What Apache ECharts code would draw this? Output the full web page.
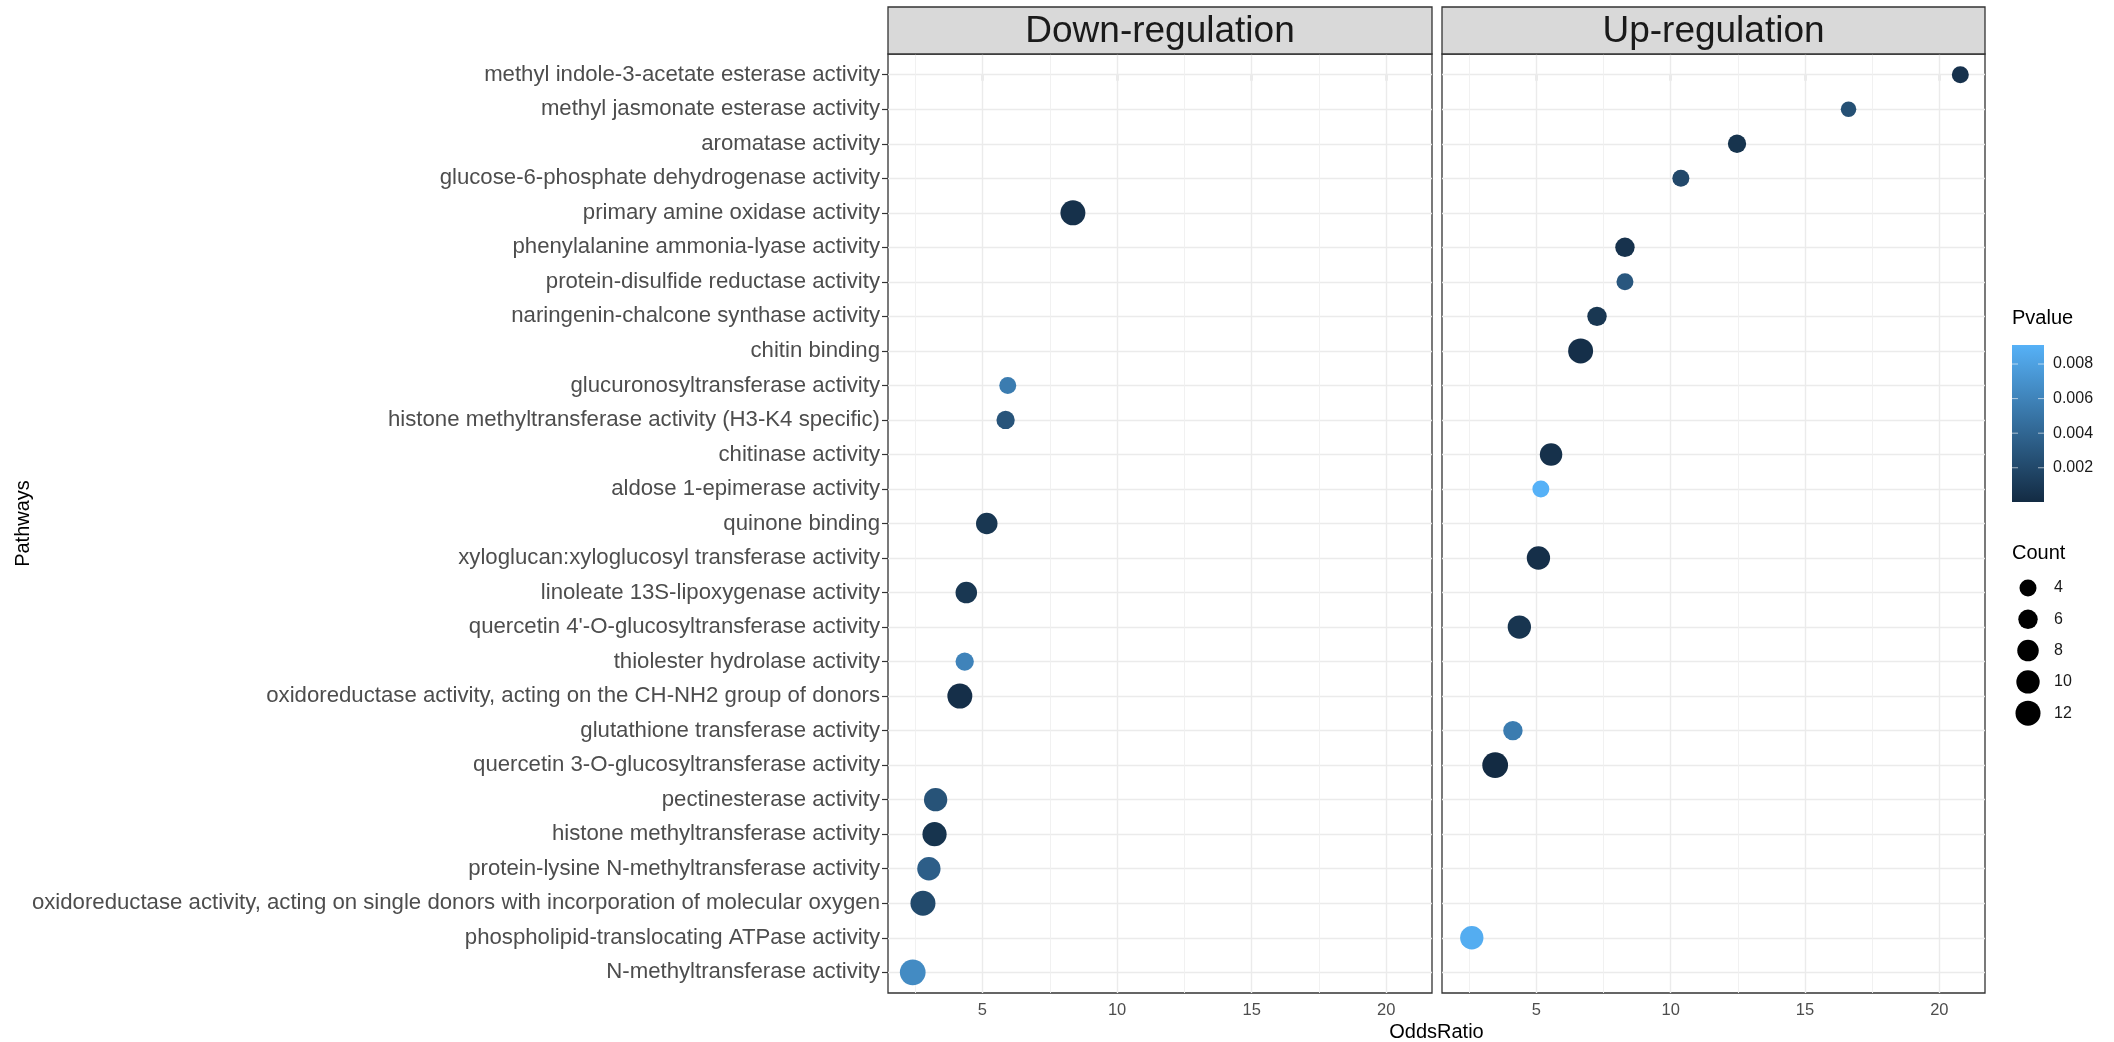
<!DOCTYPE html>
<html>
<head>
<meta charset="utf-8">
<title>GO enrichment: OddsRatio by pathway</title>
<script src="https://cdn.jsdelivr.net/npm/echarts@6/dist/echarts.min.js"></script>
<style>
  html, body { margin: 0; padding: 0; background: #ffffff; }
  #chart { width: 2114px; height: 1042px; }
</style>
</head>
<body>
<div id="chart"></div>
<script>
// Pathway names, top to bottom
const categories = [
  "methyl indole-3-acetate esterase activity",
  "methyl jasmonate esterase activity",
  "aromatase activity",
  "glucose-6-phosphate dehydrogenase activity",
  "primary amine oxidase activity",
  "phenylalanine ammonia-lyase activity",
  "protein-disulfide reductase activity",
  "naringenin-chalcone synthase activity",
  "chitin binding",
  "glucuronosyltransferase activity",
  "histone methyltransferase activity (H3-K4 specific)",
  "chitinase activity",
  "aldose 1-epimerase activity",
  "quinone binding",
  "xyloglucan:xyloglucosyl transferase activity",
  "linoleate 13S-lipoxygenase activity",
  "quercetin 4'-O-glucosyltransferase activity",
  "thiolester hydrolase activity",
  "oxidoreductase activity, acting on the CH-NH2 group of donors",
  "glutathione transferase activity",
  "quercetin 3-O-glucosyltransferase activity",
  "pectinesterase activity",
  "histone methyltransferase activity",
  "protein-lysine N-methyltransferase activity",
  "oxidoreductase activity, acting on single donors with incorporation of molecular oxygen",
  "phospholipid-translocating ATPase activity",
  "N-methyltransferase activity"
];

// Down-regulation panel
const downPathways = [
  "primary amine oxidase activity",
  "glucuronosyltransferase activity",
  "histone methyltransferase activity (H3-K4 specific)",
  "quinone binding",
  "linoleate 13S-lipoxygenase activity",
  "thiolester hydrolase activity",
  "oxidoreductase activity, acting on the CH-NH2 group of donors",
  "pectinesterase activity",
  "histone methyltransferase activity",
  "protein-lysine N-methyltransferase activity",
  "oxidoreductase activity, acting on single donors with incorporation of molecular oxygen",
  "N-methyltransferase activity"
];
const downOdds   = [8.36, 5.94, 5.86, 5.16, 4.40, 4.34, 4.16, 3.26, 3.22, 3.01, 2.79, 2.41];
const downPvalue = [0.0004, 0.0055, 0.0028, 0.0008, 0.0008, 0.0060, 0.0003, 0.0027, 0.0006, 0.0035, 0.0021, 0.0065];
const downCount  = [12, 4, 5, 8, 8, 5, 12, 10, 11, 10, 12, 13];

// Up-regulation panel
const upPathways = [
  "methyl indole-3-acetate esterase activity",
  "methyl jasmonate esterase activity",
  "aromatase activity",
  "glucose-6-phosphate dehydrogenase activity",
  "phenylalanine ammonia-lyase activity",
  "protein-disulfide reductase activity",
  "naringenin-chalcone synthase activity",
  "chitin binding",
  "chitinase activity",
  "aldose 1-epimerase activity",
  "xyloglucan:xyloglucosyl transferase activity",
  "quercetin 4'-O-glucosyltransferase activity",
  "glutathione transferase activity",
  "quercetin 3-O-glucosyltransferase activity",
  "phospholipid-translocating ATPase activity"
];
const upOdds   = [20.78, 16.62, 12.47, 10.38, 8.30, 8.30, 7.26, 6.65, 5.55, 5.17, 5.08, 4.37, 4.13, 3.47, 2.60];
const upPvalue = [0.0005, 0.0025, 0.0006, 0.0020, 0.0005, 0.0030, 0.0008, 0.0003, 0.0004, 0.0091, 0.0003, 0.0007, 0.0055, 0.00002, 0.0088];
const upCount  = [4, 3, 5, 4, 6, 4, 6, 12, 9, 4, 10, 10, 6, 13, 10];

// Axis ticks and legend breaks
const oddsTicks = [5, 10, 15, 20];
const oddsMinorTicks = [2.5, 7.5, 12.5, 17.5];
const pvalueTicks = [0.002, 0.004, 0.006, 0.008];
const countBreaks = [4, 6, 8, 10, 12];
const panelTitles = ["Down-regulation", "Up-regulation"];

const FONT = "'Liberation Sans', Arial, Helvetica, sans-serif";
const LOW_COLOR = '#132B43';
const HIGH_COLOR = '#56B1F7';

// point diameter from gene count (area-style scale)
function countToSize(c) { return 6.07 + 5.46 * Math.sqrt(c); }

function buildPoints(names, odds, pv, cnt) {
  return names.map((n, i) => [odds[i], categories.indexOf(n), pv[i], cnt[i], n]);
}

const allOdds = downOdds.concat(upOdds);
const oMin = Math.min.apply(null, allOdds), oMax = Math.max.apply(null, allOdds);
const oPad = (oMax - oMin) * 0.05;
const xMin = oMin - oPad, xMax = oMax + oPad;

const allP = downPvalue.concat(upPvalue);
const pMin = Math.min.apply(null, allP), pMax = Math.max.apply(null, allP);

// panel geometry
const PANEL_TOP = 54, PANEL_H = 939;
const panels = [
  { left: 888, width: 544 },
  { left: 1442, width: 543 }
];
const STRIP_TOP = 7;

function gridLineData() {
  const major = { color: '#ebebeb', width: 1.4, type: 'solid' };
  const minor = { color: '#efefef', width: 0.9, type: 'solid' };
  const d = [];
  categories.forEach((c, i) => d.push({ yAxis: i, lineStyle: major }));
  oddsMinorTicks.forEach(v => d.push({ xAxis: v, lineStyle: minor }));
  oddsTicks.forEach(v => d.push({ xAxis: v, lineStyle: major }));
  return d;
}

const grids = panels.map(p => ({
  left: p.left, top: PANEL_TOP, width: p.width, height: PANEL_H,
  show: true, backgroundColor: '#ffffff', borderColor: '#333333', borderWidth: 1.3,
  containLabel: false
}));

const xAxes = panels.map((p, i) => ({
  type: 'value', gridIndex: i, min: xMin, max: xMax,
  axisLine: { show: false },
  splitLine: { show: false },
  axisTick: { show: true, customValues: oddsTicks, length: 6, lineStyle: { color: '#333333', width: 1.2 } },
  axisLabel: { show: true, customValues: oddsTicks, fontSize: 16.5, color: '#4d4d4d', margin: 9, fontFamily: FONT }
}));

const yIdx = categories.map((c, i) => i);
const yAxes = panels.map((p, i) => ({
  type: 'value', gridIndex: i, inverse: true, min: -0.6, max: categories.length - 1 + 0.6,
  axisLine: { show: false },
  splitLine: { show: false },
  axisTick: { show: i === 0, customValues: yIdx, length: 6, lineStyle: { color: '#333333', width: 1.2 } },
  axisLabel: {
    show: i === 0, customValues: yIdx, fontSize: 22.2, color: '#4d4d4d', margin: 8, fontFamily: FONT,
    formatter: v => categories[Math.round(v)] || ''
  }
}));

const pointSeries = [
  buildPoints(downPathways, downOdds, downPvalue, downCount),
  buildPoints(upPathways, upOdds, upPvalue, upCount)
];

const series = [];
panels.forEach((p, i) => {
  series.push({
    type: 'line', xAxisIndex: i, yAxisIndex: i, data: [], z: 1, silent: true,
    markLine: { silent: true, symbol: ['none', 'none'], label: { show: false }, animation: false, data: gridLineData() }
  });
});
pointSeries.forEach((data, i) => {
  series.push({
    type: 'scatter', name: panelTitles[i], xAxisIndex: i, yAxisIndex: i, z: 5,
    data: data,
    symbol: 'circle',
    symbolSize: v => countToSize(v[3]),
    itemStyle: { opacity: 1 }
  });
});

// legend graphics: colourbar + size key + facet strips + axis titles
const graphics = [];
panels.forEach((p, i) => {
  graphics.push({
    type: 'rect', shape: { x: p.left, y: STRIP_TOP, width: p.width, height: PANEL_TOP - STRIP_TOP },
    style: { fill: '#d9d9d9', stroke: '#333333', lineWidth: 1.3 }, z: 10
  });
  graphics.push({
    type: 'text', x: p.left + p.width / 2, y: (STRIP_TOP + PANEL_TOP) / 2 + 1, z: 11,
    style: { text: panelTitles[i], fontSize: 37, fill: '#1a1a1a', fontFamily: FONT, align: 'center', verticalAlign: 'middle' }
  });
});
graphics.push({
  type: 'text', x: (panels[0].left + panels[1].left + panels[1].width) / 2, y: 1032, z: 11,
  style: { text: 'OddsRatio', fontSize: 20, fill: '#000000', fontFamily: FONT, align: 'center', verticalAlign: 'middle' }
});
graphics.push({
  type: 'text', x: 23, y: PANEL_TOP + PANEL_H / 2, rotation: Math.PI / 2, z: 11,
  style: { text: 'Pathways', fontSize: 20, fill: '#000000', fontFamily: FONT, align: 'center', verticalAlign: 'middle' }
});

// Pvalue colourbar
const CB_X = 2012, CB_TOP = 345, CB_W = 32, CB_H = 157;
graphics.push({
  type: 'text', x: CB_X, y: 318, z: 11,
  style: { text: 'Pvalue', fontSize: 20, fill: '#000000', fontFamily: FONT, align: 'left', verticalAlign: 'middle' }
});
graphics.push({
  type: 'rect', shape: { x: CB_X, y: CB_TOP, width: CB_W, height: CB_H }, z: 10,
  style: { fill: new echarts.graphic.LinearGradient(0, 0, 0, 1, [{ offset: 0, color: HIGH_COLOR }, { offset: 1, color: LOW_COLOR }]) }
});
pvalueTicks.forEach(t => {
  const y = CB_TOP + CB_H - (t - pMin) / (pMax - pMin) * CB_H;
  graphics.push({ type: 'line', shape: { x1: CB_X, y1: y, x2: CB_X + 6, y2: y }, style: { stroke: '#ffffff', lineWidth: 1, opacity: 0.6 }, z: 11 });
  graphics.push({ type: 'line', shape: { x1: CB_X + CB_W - 6, y1: y, x2: CB_X + CB_W, y2: y }, style: { stroke: '#ffffff', lineWidth: 1, opacity: 0.6 }, z: 11 });
  graphics.push({
    type: 'text', x: CB_X + CB_W + 9, y: y, z: 11,
    style: { text: t.toFixed(3), fontSize: 16, fill: '#1a1a1a', fontFamily: FONT, align: 'left', verticalAlign: 'middle' }
  });
});

// Count size key
graphics.push({
  type: 'text', x: CB_X, y: 553, z: 11,
  style: { text: 'Count', fontSize: 20, fill: '#000000', fontFamily: FONT, align: 'left', verticalAlign: 'middle' }
});
countBreaks.forEach((c, k) => {
  const y = 588 + k * 31.3;
  graphics.push({ type: 'circle', shape: { cx: CB_X + 16, cy: y, r: countToSize(c) / 2 }, style: { fill: '#000000' }, z: 11 });
  graphics.push({
    type: 'text', x: CB_X + 42, y: y, z: 11,
    style: { text: String(c), fontSize: 16, fill: '#1a1a1a', fontFamily: FONT, align: 'left', verticalAlign: 'middle' }
  });
});

const chart = echarts.init(document.getElementById('chart'), null, { renderer: 'canvas' });
chart.setOption({
  backgroundColor: '#ffffff',
  animation: false,
  textStyle: { fontFamily: FONT },
  grid: grids,
  xAxis: xAxes,
  yAxis: yAxes,
  visualMap: [{
    type: 'continuous', show: false, dimension: 2, min: pMin, max: pMax,
    seriesIndex: [2, 3], inRange: { color: [LOW_COLOR, HIGH_COLOR] }
  }],
  series: series,
  graphic: graphics
});
</script>
</body>
</html>
